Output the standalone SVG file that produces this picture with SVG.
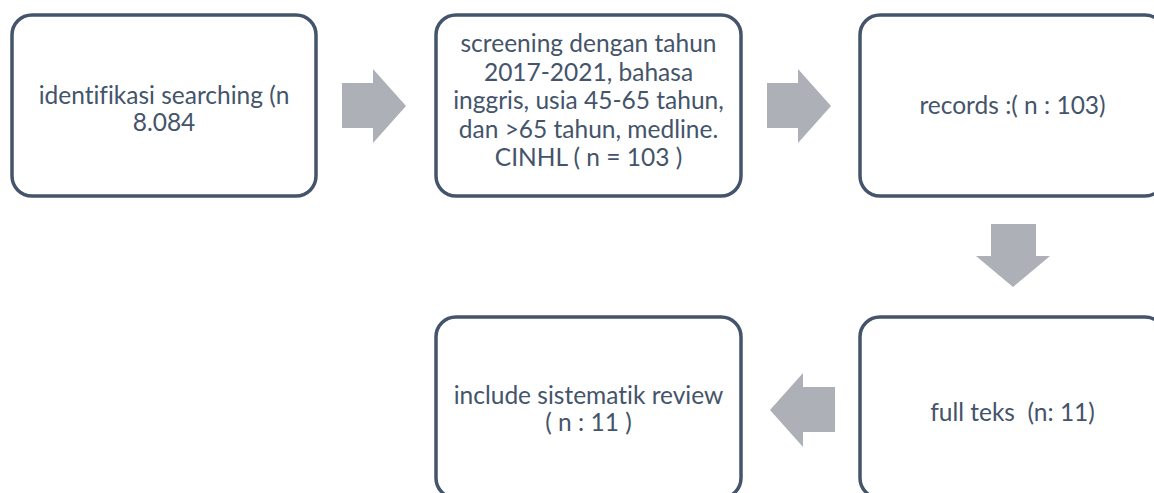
<svg xmlns="http://www.w3.org/2000/svg" width="1154" height="493" viewBox="0 0 1154 493">
<style>
.box{fill:#fff;stroke:#44546a;stroke-width:3.5}
.t{font-family:Lato,"Open Sans","Liberation Sans",sans-serif;font-size:24.5px;fill:#44546a;text-anchor:middle;font-variant-ligatures:none;font-feature-settings:"liga" 0}
.arr{fill:#adb0b6}
</style>
<rect width="1154" height="493" fill="#fff"/>
<g id="connectors">
<polygon class="arr" points="342,83 373,83 373,69 406,106 373,143 373,128 342,128"/>
<polygon class="arr" points="767,83 798,83 798,69 831,106 798,143 798,128 767,128"/>
<polygon class="arr" points="991,224 1036,224 1036,256 1050,256 1013,287 976,256 991,256"/>
<polygon class="arr" points="835,387 803,387 803,373 770,410 803,447 803,432 835,432"/>
</g>
<g id="n1">
<rect class="box" x="12" y="15" width="304" height="181" rx="20"/>
<text class="t" x="164" y="104">identifikasi searching (n</text>
<text class="t" x="164" y="131">8.084</text>
</g>
<g id="n2">
<rect class="box" x="436" y="15" width="305" height="181" rx="20"/>
<text class="t" x="588.5" y="52">screening dengan tahun</text>
<text class="t" x="588.5" y="80.5">2017-2021, bahasa</text>
<text class="t" x="588.5" y="109">inggris, usia 45-65 tahun,</text>
<text class="t" x="588.5" y="137.5">dan &gt;65 tahun, medline.</text>
<text class="t" x="588.5" y="166">CINHL ( n = 103 )</text>
</g>
<g id="n3">
<rect class="box" x="860" y="15" width="305" height="181" rx="20"/>
<text class="t" x="1012.5" y="114">records :( n : 103)</text>
</g>
<g id="n4">
<rect class="box" x="436" y="317" width="305" height="181" rx="20"/>
<text class="t" x="588.5" y="404">include sistematik review</text>
<text class="t" x="588.5" y="431">( n : 11 )</text>
</g>
<g id="n5">
<rect class="box" x="860" y="317" width="305" height="181" rx="20"/>
<text class="t" x="1012.5" y="421" xml:space="preserve">full teks  (n: 11)</text>
</g>
</svg>
